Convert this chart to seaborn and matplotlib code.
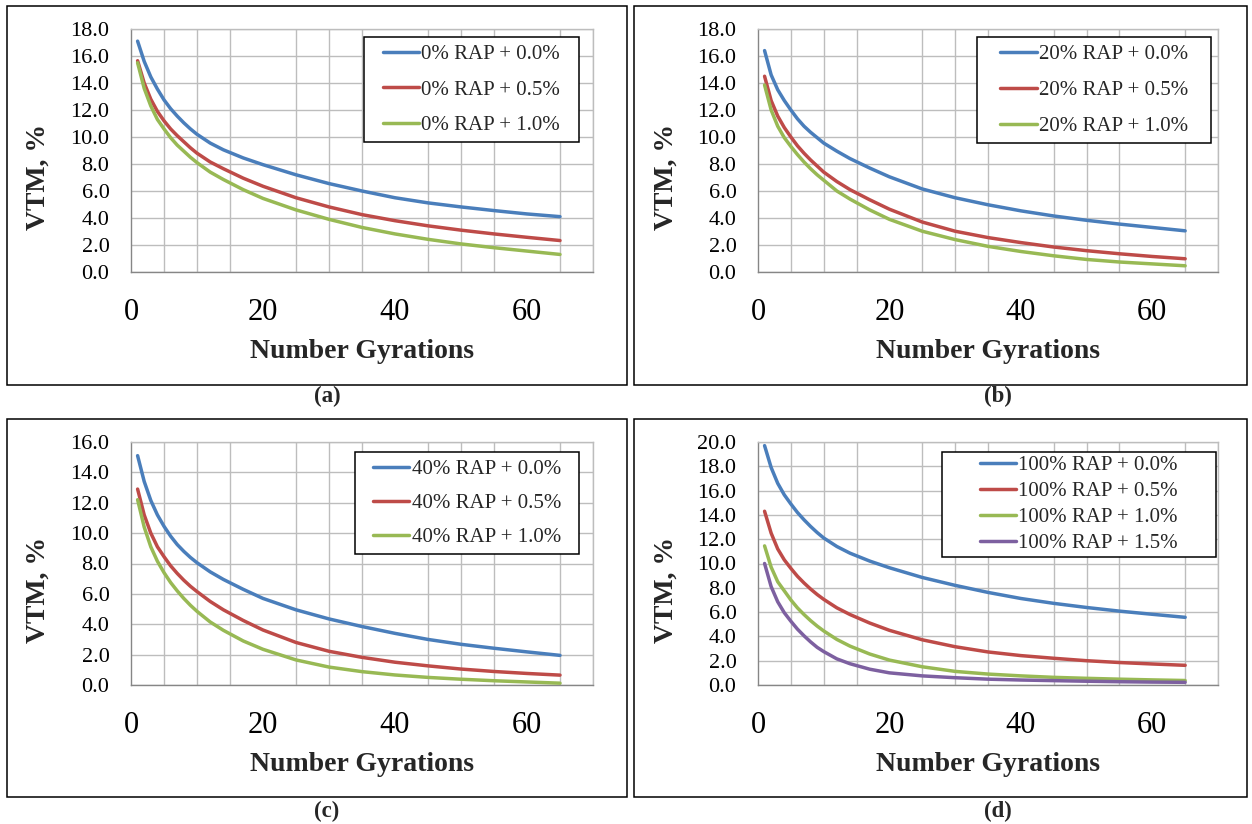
import numpy as np
import pandas as pd
import matplotlib
matplotlib.use("Agg")
import matplotlib.pyplot as plt
import seaborn as sns
from matplotlib.lines import Line2D
from matplotlib.patches import Rectangle
from matplotlib.path import Path

# Gyration counts at which VTM was sampled
gyrations = [1, 2, 3, 4, 5, 6, 7, 8, 9, 10, 12, 14, 17, 20, 25, 30, 35, 40, 45, 50, 55, 60, 65]

# (a) 0% RAP
a_00 = [17.1, 15.6, 14.45, 13.55, 12.75, 12.1, 11.55, 11.05, 10.6, 10.2, 9.55, 9.05, 8.45, 7.95,
        7.2, 6.55, 6.0, 5.5, 5.12, 4.82, 4.55, 4.3, 4.1]
a_05 = [15.65, 14.0, 12.8, 11.9, 11.2, 10.6, 10.1, 9.65, 9.2, 8.8, 8.15, 7.65, 6.95, 6.35,
        5.5, 4.82, 4.25, 3.8, 3.42, 3.1, 2.82, 2.57, 2.33]
a_10 = [15.5, 13.6, 12.3, 11.3, 10.6, 9.95, 9.4, 8.95, 8.5, 8.1, 7.4, 6.85, 6.1, 5.45,
        4.6, 3.9, 3.3, 2.82, 2.42, 2.08, 1.8, 1.55, 1.3]

# (b) 20% RAP
b_00 = [16.4, 14.6, 13.5, 12.7, 12.0, 11.35, 10.8, 10.35, 9.95, 9.55, 8.95, 8.4, 7.7, 7.05,
        6.15, 5.5, 4.98, 4.53, 4.15, 3.83, 3.55, 3.3, 3.05]
b_05 = [14.5, 12.7, 11.55, 10.7, 10.0, 9.35, 8.8, 8.3, 7.85, 7.4, 6.7, 6.1, 5.35, 4.65,
        3.7, 3.02, 2.55, 2.18, 1.85, 1.58, 1.35, 1.15, 0.98]
b_10 = [13.85, 12.0, 10.8, 9.95, 9.3, 8.7, 8.15, 7.65, 7.2, 6.8, 6.0, 5.4, 4.6, 3.9,
        3.02, 2.4, 1.9, 1.52, 1.2, 0.93, 0.74, 0.6, 0.46]

# (c) 40% RAP
c_00 = [15.1, 13.4, 12.15, 11.2, 10.45, 9.8, 9.25, 8.8, 8.4, 8.05, 7.45, 6.95, 6.3, 5.7,
        4.95, 4.35, 3.85, 3.4, 3.0, 2.68, 2.42, 2.18, 1.95]
c_05 = [12.9, 11.2, 10.0, 9.1, 8.45, 7.85, 7.35, 6.9, 6.5, 6.15, 5.5, 4.95, 4.25, 3.62,
        2.8, 2.22, 1.82, 1.5, 1.26, 1.05, 0.89, 0.76, 0.65]
c_10 = [12.2, 10.4, 9.1, 8.15, 7.4, 6.75, 6.2, 5.7, 5.25, 4.85, 4.15, 3.6, 2.9, 2.35,
        1.65, 1.18, 0.88, 0.66, 0.5, 0.38, 0.28, 0.2, 0.12]

# (d) 100% RAP
d_00 = [19.7, 17.9, 16.6, 15.65, 14.9, 14.2, 13.6, 13.05, 12.55, 12.1, 11.4, 10.85, 10.2, 9.65,
        8.85, 8.2, 7.62, 7.12, 6.72, 6.38, 6.08, 5.82, 5.57]
d_05 = [14.3, 12.5, 11.2, 10.3, 9.6, 8.95, 8.4, 7.9, 7.45, 7.05, 6.35, 5.8, 5.1, 4.5,
        3.72, 3.15, 2.72, 2.42, 2.2, 2.0, 1.85, 1.73, 1.62]
d_10 = [11.45, 9.7, 8.5, 7.75, 7.0, 6.35, 5.8, 5.3, 4.85, 4.45, 3.75, 3.2, 2.55, 2.05,
        1.5, 1.12, 0.9, 0.75, 0.63, 0.55, 0.48, 0.42, 0.37]
d_15 = [10.0, 8.1, 6.85, 5.95, 5.25, 4.6, 4.05, 3.55, 3.1, 2.75, 2.15, 1.75, 1.3, 1.0,
        0.75, 0.6, 0.48, 0.41, 0.36, 0.31, 0.27, 0.24, 0.22]

labels_a = ["0% RAP + 0.0%", "0% RAP + 0.5%", "0% RAP + 1.0%"]
labels_b = ["20% RAP + 0.0%", "20% RAP + 0.5%", "20% RAP + 1.0%"]
labels_c = ["40% RAP + 0.0%", "40% RAP + 0.5%", "40% RAP + 1.0%"]
labels_d = ["100% RAP + 0.0%", "100% RAP + 0.5%", "100% RAP + 1.0%", "100% RAP + 1.5%"]
panel_tags = ["(a)", "(b)", "(c)", "(d)"]

colors = ["#4A7EBB", "#BE4B48", "#98B954", "#7D60A0"]
GRID = "#BDBDBD"
AXIS = "#868686"
LW = 2.5

sns.set_style("white")
plt.rcParams["font.family"] = ["Liberation Serif", "DejaVu Serif"]

W, H = 1252, 824
fig = plt.figure(figsize=(W / 100, H / 100), dpi=100)


def px_axes(left, top, right, bottom):
    return fig.add_axes([left / W, 1 - bottom / H, (right - left) / W, (bottom - top) / H])


def wide_box(extra_em):
    # square frame with extra horizontal padding only
    def box(x0, y0, width, height, mutation_size):
        p = extra_em * mutation_size
        verts = [(x0 - p, y0), (x0 + width + p, y0), (x0 + width + p, y0 + height),
                 (x0 - p, y0 + height), (x0 - p, y0)]
        return Path(verts, closed=True)
    return box


def draw_panel(ax, labels, series, ymax, anchor, spacing, bpad, extra):
    n = len(series)
    df = pd.DataFrame({
        "Number Gyrations": np.tile(gyrations, n),
        "VTM": np.concatenate([np.asarray(s, float) for s in series]),
        "Mix": np.repeat(labels, len(gyrations)),
    })
    sns.lineplot(data=df, x="Number Gyrations", y="VTM", hue="Mix", hue_order=labels,
                 palette=colors[:n], linewidth=LW, estimator=None, sort=False,
                 legend=False, ax=ax, zorder=3, solid_joinstyle="round")

    ax.set_xlim(0, 70)
    ax.set_ylim(0, ymax)
    ax.set_xticks([0, 20, 40, 60])
    ax.set_xticks(np.arange(0, 71, 5), minor=True)
    ax.set_yticks(np.arange(0, ymax + 0.01, 2))
    ax.set_yticklabels([f"{v:.1f}" for v in np.arange(0, ymax + 0.01, 2)])
    ax.grid(False)
    ax.grid(which="minor", axis="x", color=GRID, linewidth=1.0, zorder=0)
    ax.grid(which="major", axis="y", color=GRID, linewidth=1.0, zorder=0)
    ax.set_axisbelow(True)

    for side in ("top", "right"):
        ax.spines[side].set_color(GRID)
        ax.spines[side].set_linewidth(1.0)
    for side in ("left", "bottom"):
        ax.spines[side].set_color(AXIS)
        ax.spines[side].set_linewidth(1.0)

    ax.tick_params(axis="x", which="major", direction="out", length=5.8, width=0.8,
                   color=AXIS, labelsize=22, pad=13, labelcolor="black")
    ax.tick_params(axis="x", which="minor", length=0)
    ax.tick_params(axis="y", which="major", direction="out", length=5, width=0.8,
                   color=AXIS, labelsize=16, pad=10.5, labelcolor="black")

    ax.set_xlabel("Number Gyrations", fontsize=20, fontweight="bold")
    ax.set_ylabel("VTM, %", fontsize=20, fontweight="bold")
    ax.xaxis.set_label_coords(0.5, -0.275)
    ax.yaxis.set_label_coords(-0.2, 0.39)
    ax.yaxis.label.set_verticalalignment("center")

    handles = [Line2D([], [], color=colors[i], linewidth=LW) for i in range(n)]
    leg = ax.legend(handles, labels, loc="upper right", bbox_to_anchor=anchor,
                    borderaxespad=0, fontsize=15, handlelength=1.73, handletextpad=0.1,
                    labelspacing=spacing, borderpad=bpad, fancybox=False,
                    framealpha=1, edgecolor="black", facecolor="white")
    leg.get_frame().set_linewidth(1.1)
    leg.legendPatch.set_boxstyle(wide_box(extra))


ax_a = px_axes(131, 29, 593, 272)
ax_b = px_axes(758, 29, 1218, 272)
ax_c = px_axes(131, 442, 593, 685)
ax_d = px_axes(758, 442, 1218, 685)

draw_panel(ax_a, labels_a, [a_00, a_05, a_10], 18, (0.945, 0.967), 0.756, 0.365, 0.55)
draw_panel(ax_b, labels_b, [b_00, b_05, b_10], 18, (0.951, 0.967), 0.78, 0.365, 0.74)
draw_panel(ax_c, labels_c, [c_00, c_05, c_10], 16, (0.947, 0.959), 0.684, 0.365, 0.5)
draw_panel(ax_d, labels_d, [d_00, d_05, d_10, d_15], 20, (0.921, 0.959), 0.314, 0.17, 1.65)

# panel frames and captions
frames = [(7, 6, 627, 385), (634, 6, 1247, 385), (7, 419, 627, 797), (634, 419, 1247, 797)]
tag_pos = [(327, 396), (998, 396), (327, 811), (998, 811)]
for (x0, y0, x1, y1), tag, (tx, ty) in zip(frames, panel_tags, tag_pos):
    fig.patches.append(Rectangle((x0 / W, 1 - y1 / H), (x1 - x0) / W, (y1 - y0) / H,
                                 transform=fig.transFigure, fill=False,
                                 edgecolor="black", linewidth=1.1))
    fig.text(tx / W, 1 - ty / H, tag, ha="center", va="center",
             fontsize=16.5, fontweight="bold")

fig.savefig("out.png", dpi=100)
